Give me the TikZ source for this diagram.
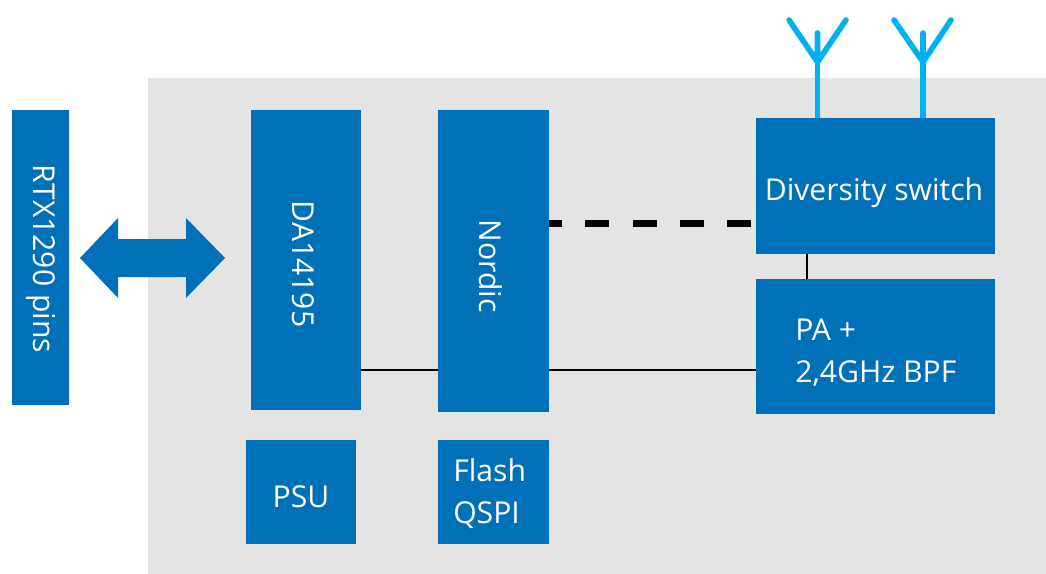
\documentclass[tikz,border=0pt]{standalone}
\usepackage{fontspec}
\setmainfont{Open Sans}
\definecolor{boxblue}{HTML}{0070B8}
\definecolor{panelgrey}{HTML}{E4E4E4}
\definecolor{antcyan}{HTML}{00B0F0}
\tikzset{
  px/.style={x=0.75pt,y=-0.75pt},
  block/.style={fill=boxblue,draw=none,inner sep=0pt},
  blocktext/.style={text=white,inner sep=0pt,font=\fontsize{22.6}{31}\selectfont,align=left},
  antenna/.style={draw=antcyan,line width=4.2pt,line cap=round,line join=round},
  thinline/.style={draw=black,line width=1.6pt},
  dashline/.style={draw=black,line width=5pt,dash pattern=on 18pt off 17.5pt,dash phase=8.5pt},
}
\begin{document}
\begin{tikzpicture}[px]
\useasboundingbox (0,0) rectangle (1046,574);
\fill[panelgrey] (148,78) rectangle (1046,574);
% blocks
\node[block,minimum width=42.4pt,minimum height=221.25pt] (rtx) at (40.25,257.5) {};
\node[block,minimum width=82.5pt,minimum height=225pt] (da) at (306,260) {};
\node[block,minimum width=83.25pt,minimum height=226.5pt] (nordic) at (493.5,261) {};
\node[block,minimum width=179.25pt,minimum height=102pt] (div) at (875.5,186) {};
\node[block,minimum width=179.25pt,minimum height=101.25pt] (pa) at (875.5,346.5) {};
\node[block,minimum width=82.5pt,minimum height=78pt] (psu) at (301,492) {};
\node[block,minimum width=83.25pt,minimum height=78pt] (flash) at (493.5,492) {};
% texts
\node[blocktext,rotate=-90] (rtxt) at (40.5,259) {RTX1290 pins};
\node[blocktext,rotate=-90] (datxt) at (303,264) {DA14195};
\node[blocktext,rotate=-90] (nordtxt) at (491,266) {Nordic};
\node[blocktext,anchor=base] (divtxt) at (874,200) {Diversity switch};
\node[blocktext,anchor=base west] (patxt) at (795,382) {PA +\\2,4GHz BPF};
\node[blocktext] (psutxt) at (301,497) {PSU};
\node[blocktext,anchor=base west] (flashtxt) at (453,523) {Flash\\QSPI};
% antennas
\coordinate (a1) at (817.5,62);
\coordinate (a2) at (923,62);
\draw[antenna,line cap=butt] (a1) -- (a1 |- div.north);
\draw[antenna] (817.5,33) -- (a1) (789,20) -- (a1) -- (846,20);
\draw[antenna,line cap=butt] (a2) -- (a2 |- div.north);
\draw[antenna] (923,33) -- (a2) (894,20) -- (a2) -- (951,20);
% connectors
\coordinate (busy) at (0,370);
\coordinate (dashy) at (0,223.3);
\coordinate (vertx) at (807,0);
\draw[thinline] (da.east |- busy) -- (nordic.west |- busy);
\draw[thinline] (nordic.east |- busy) -- (pa.west |- busy);
\draw[thinline] (div.south -| vertx) -- (pa.north -| vertx);
\draw[dashline] (nordic.east |- dashy) -- (div.west |- dashy);
% double arrow
\fill[boxblue] (80,258) -- (118,218) -- (118,239) -- (186,239) -- (186,218) -- (225,258) -- (186,298) -- (186,277) -- (118,277) -- (118,298) -- cycle;
\end{tikzpicture}
\end{document}
